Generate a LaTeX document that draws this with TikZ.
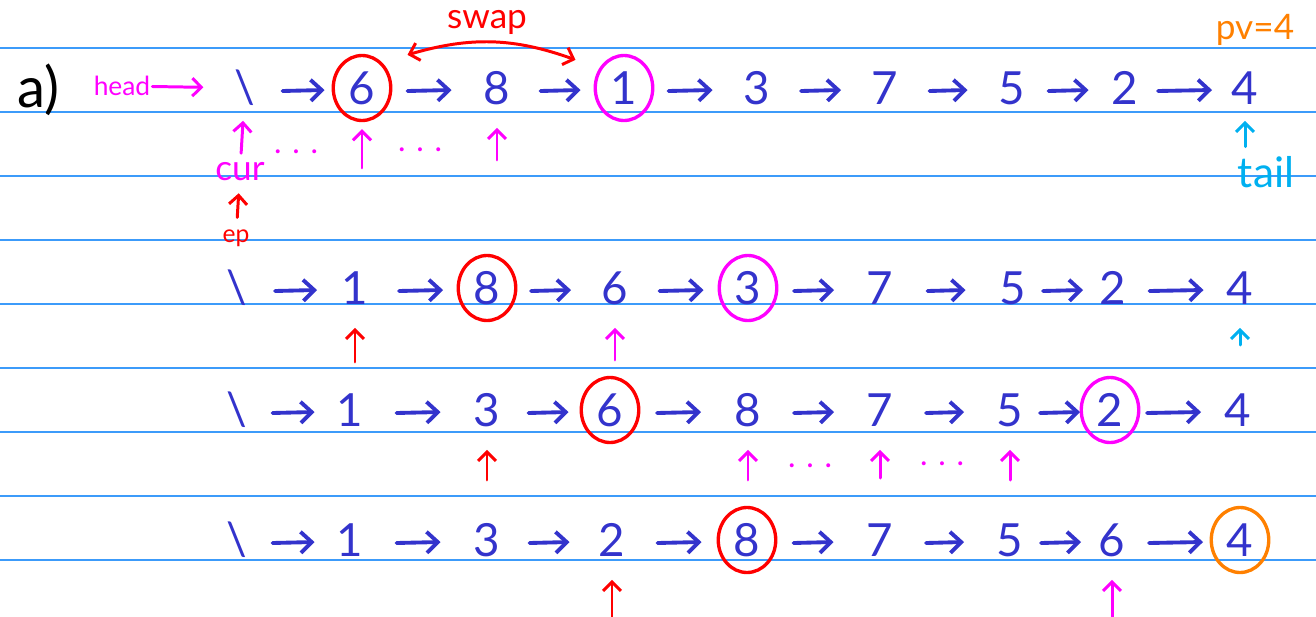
\documentclass[tikz,border=0pt]{standalone}
\usepackage{fontspec}
\setmainfont{Lato}
\usetikzlibrary{arrows.meta,shapes.geometric,calc}
\definecolor{inkblue}{RGB}{51,51,204}
\definecolor{inkmag}{RGB}{255,0,255}
\definecolor{inkred}{RGB}{255,0,0}
\definecolor{inkorange}{RGB}{255,128,0}
\definecolor{inkcyan}{RGB}{0,176,240}
\definecolor{ruleblue}{RGB}{60,155,250}
\begin{document}
\begin{tikzpicture}[x=0.02cm, y=-0.02cm,
    numnode/.style={ellipse, minimum width=1.15cm, minimum height=1.3cm, inner sep=0pt, text=inkblue, font=\fontsize{26}{30}\selectfont},
    pivred/.style={numnode, draw=inkred, line width=1.9pt},
    pivmag/.style={numnode, draw=inkmag, line width=1.9pt},
    pivorange/.style={numnode, draw=inkorange, line width=1.9pt},
    nextarrow/.style={-{Straight Barb[length=2.2mm,width=4.2mm]}, inkblue, line width=2.2pt, line cap=round, line join=round,
      to path={($(\tikztostart)!0.5!(\tikztotarget)+(-#1/2,3)$) -- ++(#1,-1)}},
    nextarrow/.default=42,
    ptrarrow/.style={-{Straight Barb[length=1.8mm,width=3.6mm]}, line width=1.7pt, line cap=round, line join=round},
    notetext/.style={inner sep=1pt, font=\fontsize{20}{24}\selectfont},
    dotsnode/.style={inner sep=0pt, text=inkmag, font=\fontsize{18}{20}\selectfont}
]
\useasboundingbox (0,0) rectangle (1316,616);
% ruled paper
\foreach \k in {0,...,8}
  \draw[ruleblue, line width=0.85pt] (0,48+64*\k) -- (1316,48+64*\k);
% Row 1
\node[font=\fontsize{32}{36}\selectfont] (part) at (38,90) {a)};
\foreach \v/\s/\x [count=\i] in {\textbackslash/numnode/245, 6/pivred/362, 8/numnode/497, 1/pivmag/624, 3/numnode/757, 7/numnode/885, 5/numnode/1012, 2/numnode/1125, 4/numnode/1245}
  \node[\s] (la\i) at (\x,88) {\v};
% Row 2
\foreach \v/\s/\x [count=\i] in {\textbackslash/numnode/237, 1/numnode/355, 8/pivred/487, 6/numnode/615, 3/pivmag/748, 7/numnode/880, 5/numnode/1013, 2/numnode/1113, 4/numnode/1240}
  \node[\s] (lb\i) at (\x,288) {\v};
% Row 3
\foreach \v/\s/\x [count=\i] in {\textbackslash/numnode/237, 1/numnode/350, 3/numnode/487, 6/pivred/610, 8/numnode/748, 7/numnode/880, 5/numnode/1010, 2/pivmag/1110, 4/numnode/1238}
  \node[\s] (lc\i) at (\x,410) {\v};
% Row 4
\foreach \v/\s/\x [count=\i] in {\textbackslash/numnode/237, 1/numnode/350, 3/numnode/487, 2/numnode/612, 8/pivred/747, 7/numnode/880, 5/numnode/1010, 6/numnode/1112, 4/pivorange/1240}
  \node[\s] (ld\i) at (\x,540) {\v};
% next pointers
\foreach \lst in {la,lb,lc,ld}
  \foreach \i/\j/\len in {1/2/42,2/3/44,3/4/40,4/5/44,5/6/40,6/7/38,7/8/40,8/9/54}
    \draw[nextarrow=\len] (\lst\i) to (\lst\j);
% labels
\node[notetext, text=inkmag, font=\fontsize{15}{18}\selectfont] (head) at (122,86) {head};
\draw[ptrarrow, inkmag, shorten >=0.25cm] (head) -- (la1);
\node[notetext, text=inkmag] (cur) at (240,172) {cur};
\draw[ptrarrow, inkmag, shorten <=0.15cm] (cur) -- (la1);
\node[notetext, text=inkred, font=\fontsize{14}{16}\selectfont] (ep) at (236,238) {ep};
\draw[ptrarrow, inkred, shorten <=0.2cm, shorten >=0.2cm] (ep) -- (cur);
\node[notetext, text=inkcyan, font=\fontsize{24}{28}\selectfont] (tail) at (1266,172) {tail};
\draw[ptrarrow, inkcyan, shorten <=0.15cm] (la9 |- tail.north) -- (la9);
\node[notetext, text=inkorange] (pv) at (1255,30) {pv=4};
\node[notetext, text=inkred] (swap) at (487,22) {swap};
\draw[ptrarrow, inkred, {Straight Barb[length=1.8mm,width=3.6mm]}-{Straight Barb[length=1.8mm,width=3.6mm]}]
  ([shift={(0.48cm,0.18cm)}]la2.north east) to[bend left=18] ([shift={(-0.54cm,0.08cm)}]la4.north west);
% scan pointers
\foreach \n/\col/\ys in {la2/inkmag/168, la3/inkmag/160, lb2/inkred/362, lb4/inkmag/360, lb9/inkcyan/345, lc3/inkred/480, lc5/inkmag/480, lc6/inkmag/478, lc7/inkmag/480, ld4/inkred/630, ld8/inkmag/630}
  \draw[ptrarrow, \col, shorten >=0.14cm] (\n.south |- 0,\ys) -- (\n.south);
\node[dotsnode] (dots1) at (296,152) {. . .};
\node[dotsnode] (dots2) at (420,150) {. . .};
\node[dotsnode] (dots3) at (810,466) {. . .};
\node[dotsnode] (dots4) at (942,464) {. . .};
\end{tikzpicture}
\end{document}
